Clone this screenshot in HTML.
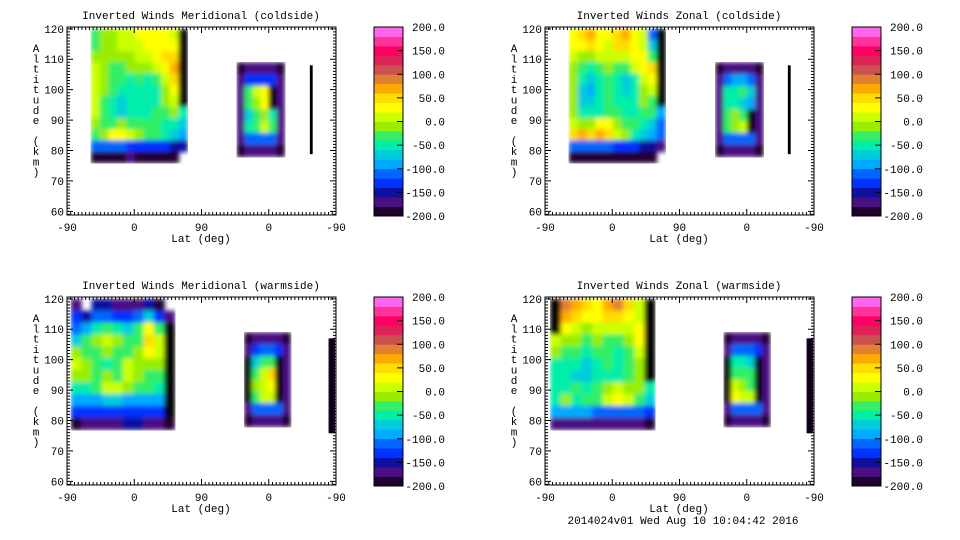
<!DOCTYPE html>
<html><head><meta charset="utf-8">
<style>
body{margin:0;background:#fff;}
svg{display:block;font-family:"Liberation Mono","DejaVu Sans Mono",monospace;}
text{fill:#000;}
</style></head>
<body>
<svg id="fig" width="960" height="540" viewBox="0 0 960 540">
<defs><filter id="smooth" x="0" y="0" width="1" height="1"><feGaussianBlur stdDeviation="2.5" edgeMode="duplicate"/></filter></defs>
</svg>
<script>
// ---- data ----
const bandColors=["#200030","#4a1080","#1010a0","#0033ff","#0066ff","#00aaff","#00ccdd","#00eeaa","#33ee66","#99ee00","#ccff00","#ffff00","#ffdd00","#ffaa00","#e08030","#cc5050","#dd2255","#ff0066","#ff3399","#ff66ee"];
const cbLabels=["200.0","150.0","100.0","50.0","0.0","-50.0","-100.0","-150.0","-200.0"];
const xTickLabels=["-90","0","90","0","-90"];
const yTickLabels=[60,70,80,90,100,110,120];
const titles=["Inverted Winds Meridional (coldside)","Inverted Winds Zonal (coldside)","Inverted Winds Meridional (warmside)","Inverted Winds Zonal (warmside)"];
const gridTL1=[
[-40,-20,-10,0,10,20,30,30,20,10,-999],
[-30,-20,-20,10,0,10,20,30,30,20,-999],
[-10,-20,-20,-20,-10,0,10,20,40,40,-999],
[0,-20,-30,-30,-20,-20,-10,0,30,60,-999],
[10,-20,-40,-40,-50,-40,-60,-30,10,50,-999],
[10,-20,-40,-60,-60,-60,-60,-50,-10,30,-999],
[10,-30,-60,-70,-50,-60,-60,-60,-20,0,-999],
[0,-40,-60,-70,-60,-50,-50,-40,-30,-20,-60],
[-20,-30,-30,-20,-30,-40,-40,-40,-50,-50,-70],
[-40,-10,20,20,0,-20,-30,-30,-50,-70,-90],
[-110,-120,-110,-120,-130,-130,-130,-130,-140,-150,-160],
[-190,-190,-190,-190,-180,-190,-190,-190,-190,-200,null]];
const gridTL2=[
[-190,-170,-170,-170,-170,-190],
[-170,-130,-130,-130,-130,-170],
[-170,-40,10,30,-999,-170],
[-170,-40,-10,20,-999,-170],
[-170,-70,-30,-10,-50,-170],
[-170,-50,-40,0,-40,-170],
[-170,-120,-110,-110,-120,-170],
[-190,-170,-170,-170,-170,-190]];
const gridTR1=[
[20,40,70,30,20,50,60,30,0,-110,-999],
[20,30,50,20,10,40,40,20,10,-70,-999],
[0,-10,-10,0,10,0,10,20,20,-40,-999],
[-20,-40,-50,-40,-20,-30,-40,0,20,40,-999],
[-10,-60,-80,-50,-30,-50,-70,-50,0,20,-999],
[-10,-70,-90,-60,-40,-60,-70,-60,-10,0,-999],
[-10,-70,-80,-50,-40,-50,-60,-60,-20,-30,-999],
[-20,-60,-60,-50,-40,-40,-50,-50,-30,-40,-90],
[0,-10,-10,20,20,-10,-30,-40,-60,-70,-110],
[40,60,50,60,40,10,-20,-50,-70,-90,-120],
[-120,-110,-120,-120,-120,-130,-130,-140,-150,-160,-170],
[-190,-190,-190,-190,-190,-190,-190,-190,-190,-190,null]];
const gridTR2=[
[-190,-170,-170,-170,-170,-190],
[-170,-120,-100,-100,-120,-170],
[-170,-60,-50,-40,-80,-170],
[-170,-50,-60,-80,-90,-170],
[-170,-40,-20,-30,-999,-170],
[-170,-30,-10,10,-999,-170],
[-170,-120,-110,-110,-120,-170],
[-190,-170,-170,-170,-170,-190]];
const gridBL1=[
[-170,null,-150,-160,-170,-180,-180,-150,-190,null],
[-140,-150,-110,-110,-130,-140,-110,-80,-140,-180],
[-120,-90,-60,-40,-60,-70,-40,20,-40,-999],
[-70,-40,-20,0,-10,-30,-30,50,0,-999],
[-10,-30,-30,-20,-30,-40,-20,30,0,-999],
[10,-20,-40,-60,-40,0,-20,-20,-20,-999],
[-10,-20,-30,-10,-30,10,-20,-30,-40,-999],
[-50,-60,-40,0,0,-20,-30,-40,-50,-999],
[-100,-100,-90,-80,-80,-90,-100,-90,-90,-999],
[-130,-130,-130,-140,-140,-140,-140,-130,-130,-999],
[-190,-170,-170,-170,-170,-160,-160,-170,-170,-190]];
const gridBL2=[
[-190,-170,-170,-170,-170,-190],
[-170,-130,-110,-110,-130,-170],
[-999,-70,-40,-40,-999,-170],
[-999,-30,10,40,-999,-170],
[-999,-20,10,20,-999,-170],
[-999,-30,0,0,-999,-170],
[-170,-120,-110,-110,-120,-170],
[-190,-170,-170,-170,-170,-190]];
const gridBR1=[
[-999,80,60,40,30,70,80,40,0,-999],
[-999,60,40,20,20,40,50,20,10,-999],
[-999,20,10,-10,0,10,0,10,30,-999],
[0,-20,-10,-40,-10,-40,-30,-10,30,-999],
[-20,-40,-40,-50,-40,-40,-60,-40,10,-999],
[-50,-60,-60,-70,-60,-40,-50,-40,-10,-999],
[-50,-60,-70,-70,-60,-50,-50,-40,-20,-999],
[-60,-50,-40,-50,-40,-20,0,-10,-20,-60],
[-60,-20,-50,-30,-30,0,20,0,-30,-70],
[-90,-100,-100,-100,-110,-110,-110,-110,-120,-130],
[-170,-170,-170,-170,-170,-170,-170,-170,-180,-190]];
const gridBR2=[
[-190,-170,-170,-170,-170,-190],
[-170,-120,-110,-110,-130,-170],
[-999,-60,-50,-70,-999,-170],
[-999,-40,-40,-30,-999,-170],
[-999,0,-10,-30,-999,-170],
[-999,20,10,0,-999,-170],
[-170,-120,-110,-110,-120,-170],
[-190,-170,-170,-170,-170,-190]];
const gridLineCold=[[-999]];
const gridLineWarm=[[-190,-999,-190]];
const panelBlocks=[
 [{p0:32,p1:161,a0:120,a1:76,g:gridTL1},{p0:227,p1:291,a0:109,a1:78,g:gridTL2},{p0:325,p1:328,a0:108,a1:79,g:gridLineCold}],
 [{p0:32,p1:161,a0:120,a1:76,g:gridTR1},{p0:228,p1:292,a0:109,a1:78,g:gridTR2},{p0:325,p1:328,a0:108,a1:79,g:gridLineCold}],
 [{p0:5,p1:144,a0:120,a1:77,g:gridBL1},{p0:237,p1:299,a0:109,a1:78,g:gridBL2},{p0:350,p1:358,a0:107,a1:76,g:gridLineWarm}],
 [{p0:7,p1:147,a0:120,a1:77,g:gridBR1},{p0:239,p1:301,a0:109,a1:78,g:gridBR2},{p0:350,p1:358,a0:107,a1:76,g:gridLineWarm}]];

// ---- drawing ----
const NS="http://www.w3.org/2000/svg";
const svg=document.getElementById('fig');
function mk(t,a,parent){const e=document.createElementNS(NS,t);for(const k in a)e.setAttribute(k,a[k]);(parent||svg).appendChild(e);return e;}
function colorOf(v){if(v<=-999)return "#000";let i=Math.floor((v+200)/20);i=Math.max(0,Math.min(19,i));return bandColors[i];}
const offsets=[[0,0],[478,0],[0,270],[478,270]];
const PX0=67,PX1=336,PY0=27,PY1=215;
offsets.forEach((o,pi)=>{
  const g=mk('g',{transform:`translate(${o[0]},${o[1]})`});
  
  
  const xS=p=>PX0+p*(PX1-PX0)/360;
  const yS=a=>PY1-(a-58.8)*(PY1-PY0)/(120.6-58.8);
  panelBlocks[pi].forEach((b,bi)=>{
    const rows=b.g.length,cols=b.g[0].length;
    const cw=(xS(b.p1)-xS(b.p0))/cols, rh=(yS(b.a1)-yS(b.a0))/rows;
    const bg=mk('g',cols>3?{filter:'url(#smooth)'}:{},g);
    
    
    b.g.forEach((row,r)=>row.forEach((v,c)=>{
      if(v===null)return;
      const rc=mk('rect',{x:xS(b.p0)+c*cw,y:yS(b.a0)+r*rh,width:cw+0.6,height:rh+0.6,fill:colorOf(v)},bg);
      
      
    }));
  });
  const box=mk('rect',{x:PX0,y:PY0,width:PX1-PX0,height:PY1-PY0,fill:'none',stroke:'#000','stroke-width':1},g);
  
  
  let d='';
  for(let p=0;p<=360;p+=5){const x=xS(p),L=(p%90===0)?6:3;d+=`M${x} ${PY1}v${-L}M${x} ${PY0}v${L}`;}
  for(let a=59;a<=120;a+=1){const y=yS(a),L=(a%10===0)?6:3;d+=`M${PX0} ${y}h${L}M${PX1} ${y}h${-L}`;}
  mk('path',{d:d,stroke:'#000','stroke-width':1,fill:'none'},g);
  xTickLabels.forEach((t,i)=>{const tx=mk('text',{x:xS(i*90),y:231,'font-size':11,'text-anchor':'middle'},g);tx.textContent=t;
    });
  yTickLabels.forEach(v=>{const tx=mk('text',{x:64,y:yS(v)+4,'font-size':11,'text-anchor':'end'},g);tx.textContent=v;
    });
  const tt=mk('text',{x:201,y:19,'font-size':11,'text-anchor':'middle'},g);tt.textContent=titles[pi];
  
  const xl=mk('text',{x:201,y:242,'font-size':11,'text-anchor':'middle'},g);xl.textContent='Lat (deg)';
  
  const yl=mk('text',{x:36,y:52,'font-size':11,'text-anchor':'middle'},g);
  
  "Altitude (km)".split('').forEach((ch,i)=>{const s=mk('tspan',{x:36,y:52+i*10.3},yl);s.textContent=ch===' '?'\u00a0':ch;});
  const cb=mk('g',{},g);
  
  const CX=374,CW=29,CT=27,CB=216,bh=(CB-CT)/bandColors.length;
  bandColors.forEach((c,i)=>{const r=mk('rect',{x:CX,y:CB-(i+1)*bh,width:CW,height:bh+0.4,fill:c},cb);
    });
  mk('rect',{x:CX,y:CT,width:CW,height:CB-CT,fill:'none',stroke:'#000'},cb);
  cbLabels.forEach((t,i)=>{const y=CT+i*(CB-CT)/(cbLabels.length-1);
    if(i>0&&i<cbLabels.length-1)mk('path',{d:`M${CX+CW} ${y}h-6`,stroke:'#000'},cb);
    const tx=mk('text',{x:445,y:y+4,'font-size':11,'text-anchor':'end'},cb);tx.textContent=t;
    });
});
const ft=mk('text',{x:683,y:524,'font-size':11,'text-anchor':'middle'});
ft.textContent='2014024v01 Wed Aug 10 10:04:42 2016';


</script>
</body></html>
